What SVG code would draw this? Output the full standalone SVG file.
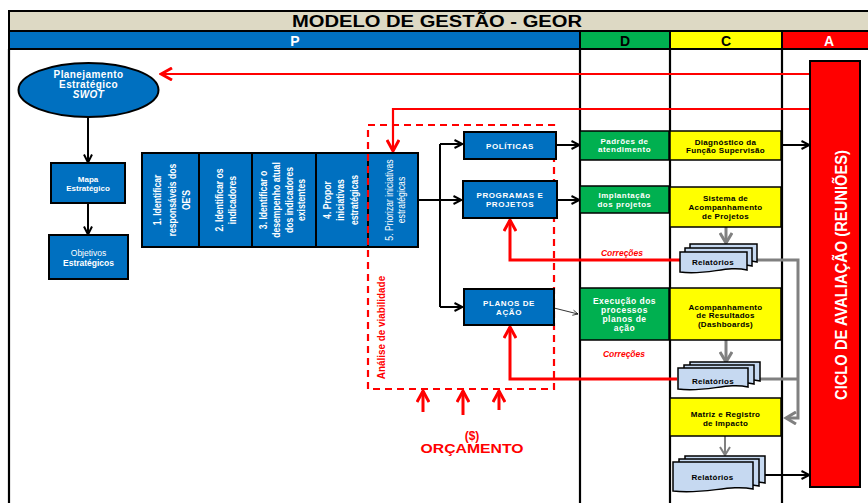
<svg xmlns="http://www.w3.org/2000/svg" width="868" height="503" viewBox="0 0 868 503">
<style>
text{font-family:"Liberation Sans",Arial,sans-serif;}
.blue{fill:#0070C0;stroke:#000;stroke-width:2;}
.green{fill:#00B050;stroke:#000;stroke-width:1.5;}
.yellow{fill:#FFFF00;stroke:#000;stroke-width:1.5;}
.doc{fill:#C6D9F1;stroke:#000;stroke-width:1.5;}
.wt{fill:#fff;font-weight:bold;text-anchor:middle;}
.bt{fill:#000;font-weight:bold;text-anchor:middle;font-size:8px;letter-spacing:0.3px;}
.st{fill:#fff;font-weight:bold;text-anchor:middle;font-size:10.5px;}
.lane{stroke:#000;stroke-width:2.2;fill:none;}
.blk{stroke:#000;stroke-width:2;fill:none;}
.red{stroke:#FF0000;stroke-width:3;fill:none;}
.redt{stroke:#FF0000;stroke-width:2.2;fill:none;}
.gray{stroke:#808080;stroke-width:3;fill:none;}
.cor{fill:#FF0000;font-weight:bold;font-style:italic;font-size:8.5px;text-anchor:middle;}
</style>
<defs>
<marker id="ah" viewBox="0 0 10 10" refX="8.5" refY="5" markerWidth="10" markerHeight="10" orient="auto" markerUnits="userSpaceOnUse"><path d="M1,1 L9,5 L1,9" fill="none" stroke="#000" stroke-width="2"/></marker>
<marker id="ahs" viewBox="0 0 8 8" refX="7" refY="4" markerWidth="7" markerHeight="7" orient="auto" markerUnits="userSpaceOnUse"><path d="M1,1 L7,4 L1,7" fill="none" stroke="#000" stroke-width="0.8"/></marker>
<marker id="rh" viewBox="0 0 14 14" refX="12" refY="7" markerWidth="14" markerHeight="14" orient="auto" markerUnits="userSpaceOnUse"><path d="M1,1 L12,7 L1,13" fill="none" stroke="#FF0000" stroke-width="3"/></marker>
<marker id="gh" viewBox="0 0 14 14" refX="11" refY="7" markerWidth="14" markerHeight="14" orient="auto" markerUnits="userSpaceOnUse"><path d="M1,1 L11,7 L1,13" fill="none" stroke="#808080" stroke-width="3"/></marker>
<marker id="ghs" viewBox="0 0 12 12" refX="9" refY="6" markerWidth="12" markerHeight="12" orient="auto" markerUnits="userSpaceOnUse"><path d="M1,1 L9,6 L1,11" fill="none" stroke="#808080" stroke-width="2"/></marker>
</defs>

<!-- header -->
<g id="header">
<rect x="9" y="11" width="866" height="20" fill="#DDD9C4" stroke="#000" stroke-width="2"/>
<text x="437" y="27" font-size="16" font-weight="bold" text-anchor="middle" textLength="290" lengthAdjust="spacingAndGlyphs">MODELO DE GESTÃO - GEOR</text>
<rect x="9" y="31" width="571" height="18" fill="#0070C0" stroke="#000" stroke-width="2"/>
<rect x="580" y="31" width="90" height="18" fill="#00B050" stroke="#000" stroke-width="2"/>
<rect x="670" y="31" width="112" height="18" fill="#FFFF00" stroke="#000" stroke-width="2"/>
<rect x="782" y="31" width="93" height="18" fill="#FF0000" stroke="#000" stroke-width="2"/>
<text x="295" y="45.5" font-size="14" font-weight="bold" fill="#fff" text-anchor="middle">P</text>
<text x="625" y="45.5" font-size="14" font-weight="bold" fill="#000" text-anchor="middle">D</text>
<text x="726" y="45.5" font-size="14" font-weight="bold" fill="#000" text-anchor="middle">C</text>
<text x="829" y="45.5" font-size="14" font-weight="bold" fill="#fff" text-anchor="middle">A</text>
</g>

<g id="lanes">
<line class="lane" x1="9" y1="49" x2="9" y2="503"/>
<line class="lane" x1="580" y1="49" x2="580" y2="503"/>
<line class="lane" x1="670" y1="49" x2="670" y2="503"/>
<line class="lane" x1="782" y1="49" x2="782" y2="503"/>
</g>

<!-- connectors -->
<g id="connectors">
<line class="blk" x1="88" y1="117" x2="88" y2="162" marker-end="url(#ah)"/>
<line class="blk" x1="88" y1="203" x2="88" y2="234" marker-end="url(#ah)"/>
<polyline class="blk" points="418,200 440,200"/>
<line class="blk" x1="440" y1="144" x2="440" y2="307"/>
<line class="blk" x1="440" y1="144" x2="462" y2="144" marker-end="url(#ah)"/>
<line class="blk" x1="440" y1="200" x2="461" y2="200" marker-end="url(#ah)"/>
<line class="blk" x1="440" y1="307" x2="462" y2="307" marker-end="url(#ah)"/>
<line class="blk" x1="556" y1="145" x2="579" y2="145" marker-end="url(#ah)"/>
<line class="blk" x1="557" y1="200" x2="579" y2="200" marker-end="url(#ah)"/>
<line x1="554" y1="308" x2="578" y2="314" stroke="#000" stroke-width="0.8" marker-end="url(#ahs)"/>
<line class="blk" x1="781" y1="145" x2="809" y2="145" marker-end="url(#ah)"/>
<line class="blk" x1="765" y1="475" x2="809" y2="475" marker-end="url(#ah)"/>
<!-- red -->
<line class="redt" x1="810" y1="74" x2="161" y2="74" marker-end="url(#rh)"/>
<polyline class="redt" points="810,109 393,109 393,151" marker-end="url(#rh)"/>
<polyline class="red" points="680,260 510,260 510,220" marker-end="url(#rh)"/>
<polyline class="red" points="677,379 510,379 510,327" marker-end="url(#rh)"/>
<line class="red" x1="423" y1="412" x2="423" y2="391" marker-end="url(#rh)"/>
<line class="red" x1="463" y1="415" x2="463" y2="391" marker-end="url(#rh)"/>
<line class="red" x1="499" y1="410" x2="499" y2="391" marker-end="url(#rh)"/>
<!-- gray -->
<line class="gray" x1="726" y1="227" x2="726" y2="243" marker-end="url(#gh)"/>
<line class="gray" x1="726" y1="340" x2="726" y2="362" marker-end="url(#gh)"/>
<line x1="725" y1="436" x2="725" y2="455" stroke="#808080" stroke-width="2" marker-end="url(#ghs)"/>
<polyline class="gray" points="757,260 798,260 798,418 786,418" marker-end="url(#gh)"/>
<polyline class="gray" points="760,379 798,379"/>
</g>

<g id="planejamento">
<ellipse cx="88.5" cy="90" rx="70" ry="27" class="blue"/>
<text class="wt" x="88.5" y="78" font-size="10" letter-spacing="0.4">Planejamento</text>
<text class="wt" x="88.5" y="88" font-size="10" letter-spacing="0.4">Estratégico</text>
<text class="wt" x="88.5" y="98" font-size="10" font-style="italic" letter-spacing="0.4">SWOT</text>
</g>
<g id="mapa">
<rect x="51" y="163" width="74" height="40" class="blue"/>
<text class="wt" x="88" y="182" font-size="8">Mapa</text>
<text class="wt" x="88" y="190.5" font-size="8">Estratégico</text>
</g>
<g id="objetivos">
<rect x="49" y="235" width="79" height="44" class="blue"/>
<text x="88.5" y="256" font-size="8.5" fill="#fff" text-anchor="middle">Objetivos</text>
<text class="wt" x="88.5" y="265.5" font-size="8.5">Estratégicos</text>
</g>

<g id="step1">
<rect x="142" y="153" width="57" height="94" class="blue"/>
<g transform="translate(170.5,200) rotate(-90) scale(0.82,1)">
<text class="st" y="-9.3">1. Identificar</text>
<text class="st" y="5">responsáveis dos</text>
<text class="st" y="19.7">OE'S</text>
</g>
</g>
<g id="step2">
<rect x="199" y="153" width="53" height="94" class="blue"/>
<g transform="translate(225.5,200) rotate(-90) scale(0.82,1)">
<text class="st" y="-2.5">2. Identificar os</text>
<text class="st" y="11">indicadores</text>
</g>
</g>
<g id="step3">
<rect x="252" y="153" width="64" height="94" class="blue"/>
<g transform="translate(284,200) rotate(-90) scale(0.82,1)">
<text class="st" y="-17" font-size="10">3. Identificar o</text>
<text class="st" y="-4" font-size="10">desempenho atual</text>
<text class="st" y="8.5" font-size="10">dos indicadores</text>
<text class="st" y="21.5" font-size="10">existentes</text>
</g>
</g>
<g id="step4">
<rect x="316" y="153" width="52" height="94" class="blue"/>
<g transform="translate(342,200) rotate(-90) scale(0.82,1)">
<text class="st" y="-10.8">4. Propor</text>
<text class="st" y="1.8">iniciativas</text>
<text class="st" y="16">estratégicas</text>
</g>
</g>
<g id="step5">
<rect x="368" y="153" width="50" height="94" class="blue"/>
<g transform="translate(393,200) rotate(-90) scale(0.82,1)">
<text x="0" y="0" font-size="10.5" fill="#fff" text-anchor="middle">5. Priorizar iniciativas</text>
<text x="0" y="12.5" font-size="10.5" fill="#fff" text-anchor="middle">estratégicas</text>
</g>
</g>

<g id="viabilidade">
<rect x="368" y="125" width="186" height="264" fill="none" stroke="#FF0000" stroke-width="2.2" stroke-dasharray="7,5"/>
<text transform="translate(385,327.5) rotate(-90) scale(0.9,1)" font-size="11" font-weight="bold" fill="#FF0000" text-anchor="middle">Análise de viabilidade</text>
</g>

<g id="politicas">
<rect x="464" y="132" width="92" height="27" class="blue"/>
<text class="wt" x="510" y="148.5" font-size="8" letter-spacing="0.6">POLÍTICAS</text>
</g>
<g id="programas">
<rect x="463" y="181" width="94" height="37" class="blue"/>
<text class="wt" x="510" y="198" font-size="8" letter-spacing="0.6">PROGRAMAS  E</text>
<text class="wt" x="510" y="207" font-size="8" letter-spacing="0.6">PROJETOS</text>
</g>
<g id="planos">
<rect x="464" y="289" width="90" height="36" class="blue"/>
<text class="wt" x="509" y="306" font-size="8" letter-spacing="0.6">PLANOS DE</text>
<text class="wt" x="509" y="315" font-size="8" letter-spacing="0.6">AÇÃO</text>
</g>

<g id="orcamento">
<text x="472" y="440" font-size="12" font-weight="bold" fill="#FF0000" text-anchor="middle">($)</text>
<text x="472" y="453" font-size="12" font-weight="bold" fill="#FF0000" text-anchor="middle" textLength="103" lengthAdjust="spacingAndGlyphs">ORÇAMENTO</text>
</g>

<g id="padroes">
<rect x="580" y="131" width="89" height="29" class="green"/>
<text class="wt" x="624.5" y="143.5" font-size="8" letter-spacing="0.5">Padrões de</text>
<text class="wt" x="624.5" y="152" font-size="8" letter-spacing="0.5">atendimento</text>
</g>
<g id="implantacao">
<rect x="580" y="186" width="89" height="27" class="green"/>
<text class="wt" x="624.5" y="198" font-size="8" letter-spacing="0.5">Implantação</text>
<text class="wt" x="624.5" y="207" font-size="8" letter-spacing="0.5">dos projetos</text>
</g>
<g id="execucao">
<rect x="580" y="288" width="89" height="52" class="green"/>
<text class="wt" x="624.5" y="304" font-size="8.5" letter-spacing="0.5">Execução dos</text>
<text class="wt" x="624.5" y="313" font-size="8.5" letter-spacing="0.5">processos</text>
<text class="wt" x="624.5" y="322" font-size="8.5" letter-spacing="0.5">planos de</text>
<text class="wt" x="624.5" y="330.5" font-size="8.5" letter-spacing="0.5">ação</text>
</g>

<g id="diagnostico">
<rect x="670" y="131" width="111" height="29" class="yellow"/>
<text class="bt" x="725.5" y="144.5">Diagnóstico da</text>
<text class="bt" x="725.5" y="152.5">Função Supervisão</text>
</g>
<g id="sistema">
<rect x="670" y="187" width="111" height="40" class="yellow"/>
<text class="bt" x="725.5" y="201">Sistema de</text>
<text class="bt" x="725.5" y="209.5">Acompanhamento</text>
<text class="bt" x="725.5" y="218.5">de Projetos</text>
</g>
<g id="acompanhamento">
<rect x="670" y="288" width="111" height="52" class="yellow"/>
<text class="bt" x="725.5" y="309.5">Acompanhamento</text>
<text class="bt" x="725.5" y="318">de Resultados</text>
<text class="bt" x="725.5" y="327">(Dashboards)</text>
</g>
<g id="matriz">
<rect x="670" y="398" width="111" height="38" class="yellow"/>
<text class="bt" x="725.5" y="417">Matriz e Registro</text>
<text class="bt" x="725.5" y="425.5">de Impacto</text>
</g>

<g id="correcoes">
<text class="cor" x="622" y="256">Correções</text>
<text class="cor" x="624" y="357">Correções</text>
</g>

<g id="relatorios1">
<path class="doc" d="M690,244 H757 V262 C736.9,257 716.8,268 690,264 Z"/>
<path class="doc" d="M685,248 H752 V266 C731.9,261 711.8,272 685,268 Z"/>
<path class="doc" d="M680,252 H747 V270 C726.9,265 706.8,276 680,272 Z"/>
<text class="bt" x="713" y="265">Relatórios</text>
</g>
<g id="relatorios2">
<path class="doc" d="M690,362 H760 V381 C739,376 718,387 690,383 Z"/>
<path class="doc" d="M684,365 H754 V384 C733,379 712,390 684,386 Z"/>
<path class="doc" d="M678,368 H748 V387 C727,382 706,393 678,389 Z"/>
<text class="bt" x="713" y="384">Relatórios</text>
</g>
<g id="relatorios3">
<path class="doc" d="M685,456 H765 V483 C741,478 717,489 685,485 Z"/>
<path class="doc" d="M679,459 H759 V486 C735,481 711,492 679,488 Z"/>
<path class="doc" d="M673,462 H753 V489 C729,484 705,495 673,491 Z"/>
<text class="bt" x="712.5" y="479.5">Relatórios</text>
</g>

<g id="ciclo">
<rect x="810" y="61" width="50" height="426" fill="#FF0000" stroke="#000" stroke-width="2"/>
<text transform="translate(847,275) rotate(-90)" font-size="16" font-weight="bold" fill="#fff" text-anchor="middle" textLength="250" lengthAdjust="spacingAndGlyphs">CICLO DE AVALIAÇÃO (REUNIÕES)</text>
</g>
</svg>
